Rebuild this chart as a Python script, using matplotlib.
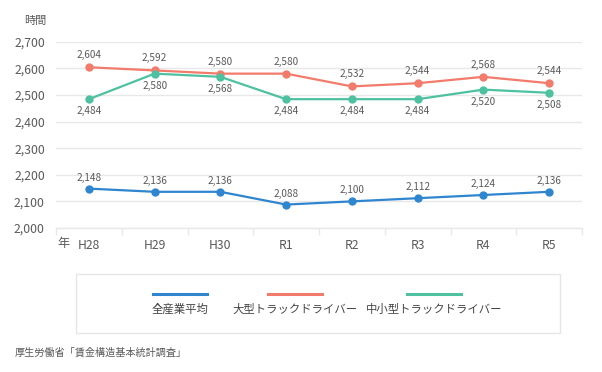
import matplotlib.pyplot as plt
from matplotlib.lines import Line2D
from matplotlib.patches import Rectangle
from matplotlib.ticker import FuncFormatter, FixedLocator

plt.rcParams['font.family'] = ['Noto Sans CJK JP', 'DejaVu Sans']

# data
years = ['H28', 'H29', 'H30', 'R1', 'R2', 'R3', 'R4', 'R5']
all_industry = [2148, 2136, 2136, 2088, 2100, 2112, 2124, 2136]
large_truck = [2604, 2592, 2580, 2580, 2532, 2544, 2568, 2544]
small_mid_truck = [2484, 2580, 2568, 2484, 2484, 2484, 2520, 2508]
series_names = ['全産業平均', '大型トラックドライバー', '中小型トラックドライバー']
source = '厚生労働省「賃金構造基本統計調査」'

blue = '#2f86cf'
red = '#f27b6b'
green = '#4dc1a0'
text_grey = '#5a5a5a'
grid_grey = '#e8e8e8'

fig = plt.figure(figsize=(6.02, 3.72), dpi=100)
ax = fig.add_axes([56 / 602, 1 - 228 / 372, (582 - 56) / 602, (228 - 41.7) / 372])

x = list(range(len(years)))
series = [all_industry, large_truck, small_mid_truck]
colors = [blue, red, green]
offsets = [11, 12, -12]  # label offset in px (above / below)

for vals, c, off in zip(series, colors, offsets):
    ax.plot(x, vals, color=c, lw=1.6, marker='o', markersize=5, zorder=3)
    for xi, v in zip(x, vals):
        ax.annotate(f'{v:,}', (xi, v), xytext=(0, off * 0.72), textcoords='offset points',
                    ha='center', va='center', fontsize=7.2, color=text_grey)

ax.set_xlim(-0.5, len(years) - 0.5)
ax.set_ylim(2000, 2700)
ax.set_yticks(range(2000, 2701, 100))
ax.yaxis.set_major_formatter(FuncFormatter(lambda v, p: f'{int(v):,}'))
ax.set_xticks(x)
ax.set_xticklabels(years)
ax.xaxis.set_minor_locator(FixedLocator([i - 0.5 for i in range(len(years) + 1)]))

ax.grid(axis='y', color=grid_grey, lw=1)
ax.set_axisbelow(True)
for s in ['top', 'right', 'left']:
    ax.spines[s].set_visible(False)
ax.spines['bottom'].set_color(grid_grey)
ax.spines['bottom'].set_linewidth(1)

ax.tick_params(axis='y', length=0, pad=8, labelsize=8.8, labelcolor=text_grey)
ax.tick_params(axis='x', which='major', length=0, pad=8, labelsize=8.8, labelcolor=text_grey)
ax.tick_params(axis='x', which='minor', length=5, color=grid_grey, width=1)

fig.text(24 / 602, 1 - 21 / 372, '時間', fontsize=8, color=text_grey, va='center', ha='left')
fig.text(57 / 602, 1 - 243 / 372, '年', fontsize=8.8, color=text_grey, va='center', ha='left')

# legend box
fig.patches.append(Rectangle((76 / 602, 1 - 333 / 372), (560 - 76) / 602, (333 - 274) / 372,
                             transform=fig.transFigure, facecolor='white',
                             edgecolor='#e6e6e6', lw=1))
legend_centers = [180, 295, 434]
for cx, name, c in zip(legend_centers, series_names, colors):
    fig.lines.append(Line2D([(cx - 27) / 602, (cx + 27) / 602], [1 - 294 / 372] * 2,
                            transform=fig.transFigure, color=c, lw=2.2))
    fig.text(cx / 602, 1 - 309 / 372, name, fontsize=8.2, color='#444444',
             ha='center', va='center')

fig.text(15 / 602, 1 - 353 / 372, source, fontsize=7.3, color=text_grey, va='center', ha='left')

fig.savefig('out.png', dpi=100)
